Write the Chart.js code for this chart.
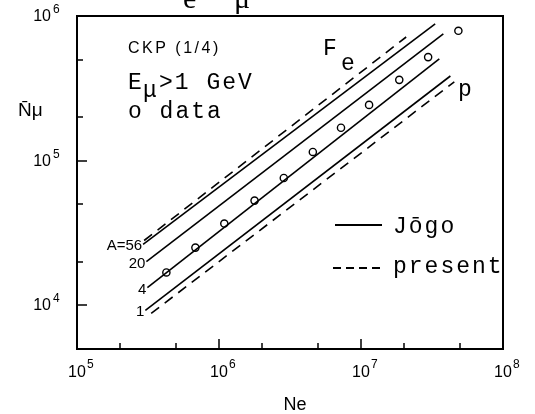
<!DOCTYPE html>
<html>
<head>
<meta charset="utf-8">
<script src="https://cdn.jsdelivr.net/npm/chart.js@4/dist/chart.umd.min.js"></script>
<style>
html,body{margin:0;padding:0;background:#fff;}
canvas{display:block;}
</style>
</head>
<body>
<canvas id="c" width="535" height="414"></canvas>
<script>
// ---- data ----
// model lines: [Ne, Nmu] start and end points
const jogoA56    = [[2.92e5, 2.64e4], [3.33e7, 8.81e5]];
const presentA56 = [[2.97e5, 2.81e4], [2.08e7, 7.16e5]];
const jogoA20    = [[3.08e5, 2.01e4], [3.80e7, 7.52e5]];
const jogoA4     = [[3.13e5, 1.33e4], [3.56e7, 5.05e5]];
const jogoA1     = [[3.03e5, 9.25e3], [4.26e7, 3.85e5]];
const presentA1  = [[3.33e5, 8.81e3], [4.54e7, 3.51e5]];
// measured data points
const dataNe  = [4.26e5, 6.82e5, 1.09e6, 1.78e6, 2.86e6, 4.58e6, 7.23e6, 1.14e7, 1.86e7, 2.97e7, 4.85e7];
const dataNmu = [1.69e4, 2.51e4, 3.68e4, 5.30e4, 7.60e4, 1.15e5, 1.69e5, 2.43e5, 3.62e5, 5.20e5, 7.90e5];
// axes
const xMajorTicks = [1e5, 1e6, 1e7, 1e8];
const xTickExp    = ['5', '6', '7', '8'];
const xMinorTicks = [2e5, 5e5, 2e6, 5e6, 2e7, 5e7];
const yMajorTicks = [1e4, 1e5, 1e6];
const yTickExp    = ['4', '5', '6'];
const yMinorTicks = [2e4, 5e4, 2e5, 5e5];
const massLabels  = ['A=56', '20', '4', '1'];
const massLabelNmu = [2.64e4, 2.01e4, 1.33e4, 9.25e3];
const massLabelNe  = [2.92e5, 3.08e5, 3.13e5, 3.03e5];

const toPts = arr => arr.map(p => ({x: p[0], y: p[1]}));

function lineDs(pts, dashed) {
  return {
    data: toPts(pts), showLine: true, pointRadius: 0, borderColor: '#000',
    borderWidth: 1.6, borderDash: dashed ? [10, 7] : [], fill: false
  };
}

const decor = {
  id: 'decor',
  afterDatasetsDraw(chart) {
    const {ctx, chartArea: {left, right, top, bottom}, scales: {x, y}} = chart;
    ctx.save();
    ctx.strokeStyle = '#000';
    ctx.fillStyle = '#000';
    // frame
    ctx.lineWidth = 2;
    ctx.strokeRect(left, top, right - left, bottom - top);
    // ticks
    ctx.lineWidth = 1.5;
    ctx.beginPath();
    xMajorTicks.forEach(v => { const p = Math.round(x.getPixelForValue(v)); ctx.moveTo(p, bottom); ctx.lineTo(p, bottom - 10); });
    xMinorTicks.forEach(v => { const p = Math.round(x.getPixelForValue(v)); ctx.moveTo(p, bottom); ctx.lineTo(p, bottom - 6); });
    yMajorTicks.forEach(v => { const p = Math.round(y.getPixelForValue(v)); ctx.moveTo(left, p); ctx.lineTo(left + 10, p); });
    yMinorTicks.forEach(v => { const p = Math.round(y.getPixelForValue(v)); ctx.moveTo(left, p); ctx.lineTo(left + 6, p); });
    ctx.stroke();

    // tick labels
    ctx.textBaseline = 'alphabetic';
    xMajorTicks.forEach((v, i) => {
      const p = x.getPixelForValue(v);
      ctx.font = '16px "Liberation Sans", Arial, sans-serif';
      const w = ctx.measureText('10').width;
      ctx.textAlign = 'left';
      ctx.fillText('10', p - w / 2, bottom + 28);
      ctx.font = '12px "Liberation Sans", Arial, sans-serif';
      ctx.fillText(xTickExp[i], p + w / 2 + 1, bottom + 19);
    });
    yMajorTicks.forEach((v, i) => {
      const p = y.getPixelForValue(v);
      ctx.font = '16px "Liberation Sans", Arial, sans-serif';
      ctx.textAlign = 'right';
      ctx.fillText('10', left - 26, p + 5);
      ctx.textAlign = 'left';
      ctx.font = '12px "Liberation Sans", Arial, sans-serif';
      ctx.fillText(yTickExp[i], left - 24, p - 3);
    });

    // axis titles
    ctx.font = '18px "Liberation Sans", Arial, sans-serif';
    ctx.textAlign = 'center';
    ctx.fillText('Ne', (left + right) / 2 + 5, bottom + 61);
    ctx.textAlign = 'left';
    ctx.font = '19px "Liberation Sans", Arial, sans-serif';
    ctx.fillText('N\u0304\u03bc', 18, 116);

    // clipped title fragment at top
    ctx.font = '30px "Liberation Serif", serif';
    ctx.fillText('e', 183, 8);
    ctx.fillText('\u03bc', 234, 8);

    // annotations
    ctx.font = '16px "Liberation Sans", Arial, sans-serif';
    ctx.letterSpacing = '2.5px';
    ctx.fillText('CKP (1/4)', 128, 53);
    ctx.letterSpacing = '2px';
    ctx.font = '23px "Liberation Mono", "Courier New", monospace';
    ctx.fillText('E', 128, 89);
    ctx.fillText('\u03bc', 143, 97);
    ctx.fillText('>1 GeV', 159, 89);
    ctx.fillText('o data', 128, 118);
    ctx.fillText('F', 323, 55);
    ctx.fillText('e', 341, 70);
    ctx.fillText('p', 458, 96);
    ctx.fillText('J\u014dgo', 393, 233);
    ctx.fillText('present', 393, 273);
    ctx.letterSpacing = '0px';

    // legend samples
    ctx.lineWidth = 2;
    ctx.beginPath(); ctx.moveTo(335, 225); ctx.lineTo(382, 225); ctx.stroke();
    ctx.setLineDash([8, 5]);
    ctx.beginPath(); ctx.moveTo(333, 268); ctx.lineTo(381, 268); ctx.stroke();
    ctx.setLineDash([]);

    // mass labels at line starts
    ctx.font = '15px "Liberation Sans", Arial, sans-serif';
    ctx.textAlign = 'right';
    massLabels.forEach((t, i) => {
      const px = x.getPixelForValue(massLabelNe[i]);
      const py = y.getPixelForValue(massLabelNmu[i]);
      ctx.fillText(t, px - 1, py + 6);
    });
    ctx.restore();
  }
};

new Chart(document.getElementById('c'), {
  type: 'scatter',
  data: {
    datasets: [
      lineDs(jogoA56, false),
      lineDs(presentA56, true),
      lineDs(jogoA20, false),
      lineDs(jogoA4, false),
      lineDs(jogoA1, false),
      lineDs(presentA1, true),
      {
        data: dataNe.map((v, i) => ({x: v, y: dataNmu[i]})),
        showLine: false, pointRadius: 3.6, pointStyle: 'circle',
        pointBackgroundColor: '#fff', pointBorderColor: '#000', pointBorderWidth: 1.4
      }
    ]
  },
  options: {
    responsive: false,
    animation: false,
    devicePixelRatio: 1,
    layout: {padding: {left: 77, top: 16, right: 32, bottom: 65}},
    plugins: {legend: {display: false}, tooltip: {enabled: false}},
    scales: {
      x: {type: 'logarithmic', min: 1e5, max: 1e8, display: false},
      y: {type: 'logarithmic', min: 5e3, max: 1e6, display: false}
    }
  },
  plugins: [decor]
});
</script>
</body>
</html>
